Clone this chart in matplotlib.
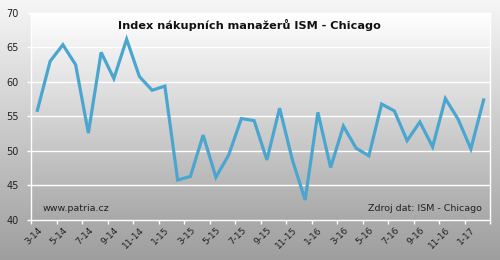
import numpy as np
import matplotlib
matplotlib.use("Agg")
import matplotlib.pyplot as plt
from matplotlib.colors import LinearSegmentedColormap

# monthly ISM Chicago PMI, 3-14 .. 2-17
months = ["3-14", "4-14", "5-14", "6-14", "7-14", "8-14", "9-14", "10-14", "11-14", "12-14",
          "1-15", "2-15", "3-15", "4-15", "5-15", "6-15", "7-15", "8-15", "9-15", "10-15",
          "11-15", "12-15", "1-16", "2-16", "3-16", "4-16", "5-16", "6-16", "7-16", "8-16",
          "9-16", "10-16", "11-16", "12-16", "1-17", "2-17"]
values = [55.9, 63.0, 65.4, 62.5, 52.6, 64.3, 60.5, 66.2, 60.8, 58.8,
          59.4, 45.8, 46.3, 52.3, 46.2, 49.4, 54.7, 54.4, 48.7, 56.2,
          48.7, 42.9, 55.6, 47.6, 53.6, 50.4, 49.3, 56.8, 55.8, 51.5,
          54.2, 50.6, 57.6, 54.6, 50.3, 57.4]
yticks = [40, 45, 50, 55, 60, 65, 70]

fig = plt.figure(figsize=(5, 2.6), dpi=100)

# figure background gradient
bg = fig.add_axes([0, 0, 1, 1], zorder=-10)
bg.axis("off")
bg_cmap = LinearSegmentedColormap.from_list("bg", ["#f6f6f6", "#9e9e9e"])
bg.imshow(np.linspace(0, 1, 256).reshape(-1, 1), aspect="auto", cmap=bg_cmap,
          extent=[0, 1, 0, 1])

ax = fig.add_axes([0.062, 0.154, 0.918, 0.796])
ax.patch.set_alpha(0)
pa_cmap = LinearSegmentedColormap.from_list("pa", ["#ffffff", "#a9a9a9"])
ax.imshow(np.linspace(0, 1, 256).reshape(-1, 1), aspect="auto", cmap=pa_cmap,
          extent=[0, 1, 0, 1], transform=ax.transAxes, zorder=0)

x = np.arange(len(months))
ax.plot(x, values, color="#4ba6cf", linewidth=2.3, solid_joinstyle="miter", zorder=3)

ax.set_xlim(-0.5, len(months) - 0.5)
ax.set_ylim(40, 70)
ax.set_yticks(yticks)
ax.set_yticklabels([str(v) for v in yticks], fontsize=7, color="#222222")
for v in yticks[1:]:
    ax.axhline(v, color="white", linewidth=1, zorder=1)

ax.set_xticks(x[::2])
ax.set_xticklabels(months[::2], rotation=45, ha="right", rotation_mode="anchor",
                   fontsize=6.5, color="#222222")
ax.set_xticks(np.arange(-0.5, len(months), 2), minor=True)
ax.tick_params(axis="x", which="major", length=0, pad=4)
ax.tick_params(axis="x", which="minor", length=3, color="white", width=1)
ax.tick_params(axis="y", length=3, color="white", width=1, pad=6)

for s in ["left", "bottom", "right", "top"]:
    ax.spines[s].set_color("white")
    ax.spines[s].set_linewidth(1)

fig.text(0.498, 0.905, "Index nákupních manažerů ISM - Chicago", ha="center", va="center",
         fontsize=8.1, fontweight="bold", color="#111111")
ax.text(0.025, 0.055, "www.patria.cz", transform=ax.transAxes, fontsize=6.8,
        color="#222222", ha="left", va="center")
ax.text(0.982, 0.055, "Zdroj dat: ISM - Chicago", transform=ax.transAxes, fontsize=6.8,
        color="#222222", ha="right", va="center")

fig.savefig("out.png", dpi=100)
